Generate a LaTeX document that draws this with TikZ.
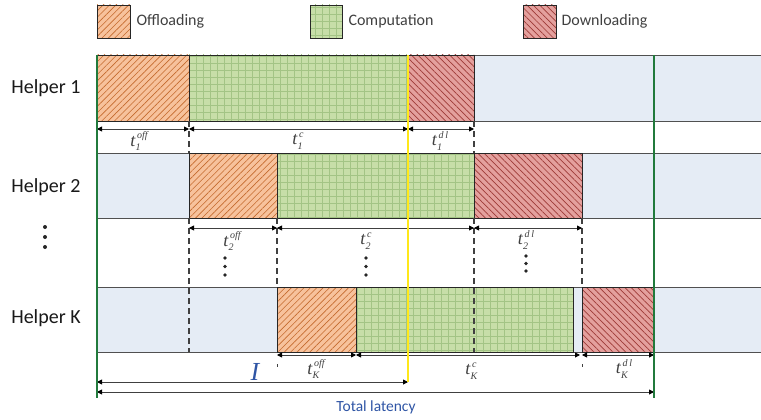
\documentclass[tikz,border=0pt]{standalone}
\usepackage{fontspec}
\setmainfont{Carlito}
\newfontfamily\tfont{Liberation Serif}
\usetikzlibrary{arrows.meta,patterns,patterns.meta}
\definecolor{offFill}{HTML}{F7C29C}
\definecolor{offLine}{HTML}{C46A2E}
\definecolor{compFill}{HTML}{C7DEA8}
\definecolor{compLine}{HTML}{A3C485}
\definecolor{dlFill}{HTML}{E4A09D}
\definecolor{dlLine}{HTML}{9E3B38}
\definecolor{bandFill}{HTML}{E5ECF5}
\definecolor{bandLine}{HTML}{505050}
\definecolor{darkgreen}{HTML}{217A3C}
\definecolor{yel}{HTML}{FFE81A}
\definecolor{txtgray}{HTML}{404040}
\definecolor{latblue}{HTML}{2F55A5}
\pgfdeclarepatternformonly{cgrid}{\pgfqpoint{-0.5pt}{-0.5pt}}{\pgfqpoint{7.5pt}{7.5pt}}{\pgfqpoint{7pt}{7pt}}{%
  \pgfsetlinewidth{0.5pt}%
  \pgfpathmoveto{\pgfqpoint{0pt}{0pt}}\pgfpathlineto{\pgfqpoint{7pt}{0pt}}%
  \pgfpathmoveto{\pgfqpoint{0pt}{0pt}}\pgfpathlineto{\pgfqpoint{0pt}{7pt}}%
  \pgfusepath{stroke}}
\newcommand\dimarr[4]{\coordinate (#1a) at (#2,#4); \coordinate (#1b) at (#3,#4); \draw[dimline] (#1a) -- (#1b);}
\newcommand\tlbl[2]{{\fontsize{18}{20}\selectfont\tfont\itshape t}\hspace{0.3pt}\makebox[0pt][l]{\raisebox{-4.5pt}{\fontsize{10}{10}\selectfont\tfont\itshape #1}}\raisebox{7.5pt}{\fontsize{10}{10}\selectfont\tfont\itshape\hspace{1.5pt}#2}}
\begin{document}
\begin{tikzpicture}[x=1pt,y=-1pt,
  band/.style={fill=bandFill, draw=none},
  bandedge/.style={draw=bandLine, line width=0.8pt},
  offbox/.style={preaction={fill=offFill}, pattern={Lines[angle=45,distance=4.5pt,line width=0.6pt]}, pattern color=offLine, draw=black!85, line width=0.8pt},
  compbox/.style={preaction={fill=compFill}, pattern=cgrid, pattern color=compLine, draw=black!85, line width=0.8pt},
  dlbox/.style={preaction={fill=dlFill}, pattern={Lines[angle=-45,distance=4.5pt,line width=0.7pt]}, pattern color=dlLine, draw=black!85, line width=0.8pt},
  dashv/.style={draw=txtgray, line width=1.1pt, dash pattern=on 6pt off 4pt},
  dimline/.style={draw=txtgray, line width=0.9pt, {Triangle[length=5pt,width=5pt,color=black]}-{Triangle[length=5pt,width=5pt,color=black]}},
  greenv/.style={draw=darkgreen, line width=2.2pt},
  yelv/.style={draw=yel, line width=2pt},
  helper/.style={font=\fontsize{20}{24}\selectfont, text=black!90},
  legtext/.style={font=\fontsize{16}{19}\selectfont, text=txtgray, anchor=west},
  tlab/.style={text=txtgray, inner sep=0pt},
  vdot/.style={fill=black!85, draw=none}
]
\useasboundingbox (0,0) rectangle (761,420);
% legend
\path[offbox] (97,5) rectangle (130,38);
\node[legtext] (lo) at (133,21) {Offloading};
\path[compbox] (310,5) rectangle (342,38);
\node[legtext] (lc) at (345,21) {Computation};
\path[dlbox] (523,5) rectangle (556,38);
\node[legtext] (ld) at (558,21) {Downloading};
% bands
\foreach \t/\b in {55/121,153/218,287/352}{
  \path[band] (97,\t) rectangle (761,\b);
  \draw[bandedge] (97,\t) -- (761,\t) (97,\b) -- (761,\b);
}
% helper labels
\node[helper] (h1) at (46,88) {Helper 1};
\node[helper] (h2) at (46,187) {Helper 2};
\node[helper] (hk) at (46,318) {Helper K};
\foreach \yy in {227,237,247} \fill[vdot] (45,\yy) circle (2pt);
% row 1
\path[offbox] (97,55) rectangle (189,121);
\path[compbox] (189,55) rectangle (408,121);
\path[dlbox] (408,55) rectangle (474,121);
% row 2
\path[offbox] (189,153) rectangle (277,218);
\path[compbox] (277,153) rectangle (474,218);
\path[dlbox] (474,153) rectangle (582,218);
% row K
\path[offbox] (277,287) rectangle (356,352);
\path[compbox] (356,287) rectangle (573,352);
\path[dlbox] (582,287) rectangle (654,352);
% dashed verticals
\draw[dashv] (189,121) -- (189,153);
\draw[dashv] (474,121) -- (474,153);
\draw[dashv] (189,218) -- (189,352);
\draw[dashv] (277,218) -- (277,287);
\draw[dashv] (474,218) -- (474,352);
\draw[dashv] (582,218) -- (582,287);
\draw[draw=txtgray, line width=1pt] (277,364) -- (277,367);
\draw[draw=txtgray, line width=1pt] (582,364) -- (582,367);
% dimension arrows
\dimarr{r1o}{97}{189}{129}
\dimarr{r1c}{189}{408}{129}
\dimarr{r1d}{408}{474}{129}
\dimarr{r2o}{189}{277}{228}
\dimarr{r2c}{277}{474}{228}
\dimarr{r2d}{474}{582}{228}
\dimarr{rko}{277}{356}{355}
\dimarr{rkc}{356}{580}{355}
\dimarr{rkd}{582}{654}{355}
\dimarr{ii}{97}{408}{382}
\dimarr{tl}{97}{654}{392}
% labels
\node[tlab] (l1o) at (139,141) {\tlbl{1}{off}};
\node[tlab] (l1c) at (298,141) {\tlbl{1}{c}};
\node[tlab] (l1d) at (440,141) {\tlbl{1}{d\,l}};
\node[tlab] (l2o) at (232,241) {\tlbl{2}{off}};
\node[tlab] (l2c) at (366,241) {\tlbl{2}{c}};
\node[tlab] (l2d) at (526,240) {\tlbl{2}{d\,l}};
\node[tlab] (lko) at (316,369) {\tlbl{K}{off}};
\node[tlab] (lkc) at (471,371) {\tlbl{K}{c}};
\node[tlab] (lkd) at (624,369) {\tlbl{K}{d\,l}};
\foreach \xx/\ya/\yb/\yc in {225/258/266.5/275, 366/258/266.5/275, 526/256/263.5/271}{
  \fill[vdot] (\xx,\ya) circle (1.8pt) (\xx,\yb) circle (1.8pt) (\xx,\yc) circle (1.8pt);
}
\node[font=\fontsize{26}{28}\selectfont\tfont\itshape, text=latblue, inner sep=0pt] (I) at (255,372) {I};
\node[font=\fontsize{15.5}{18}\selectfont, text=latblue] (tlat) at (376,407) {Total latency};
% verticals
\draw[greenv] (97,55) -- (97,398);
\draw[greenv] (654,55) -- (654,398);
\draw[yelv] (408,55) -- (408,382);
\end{tikzpicture}
\end{document}
